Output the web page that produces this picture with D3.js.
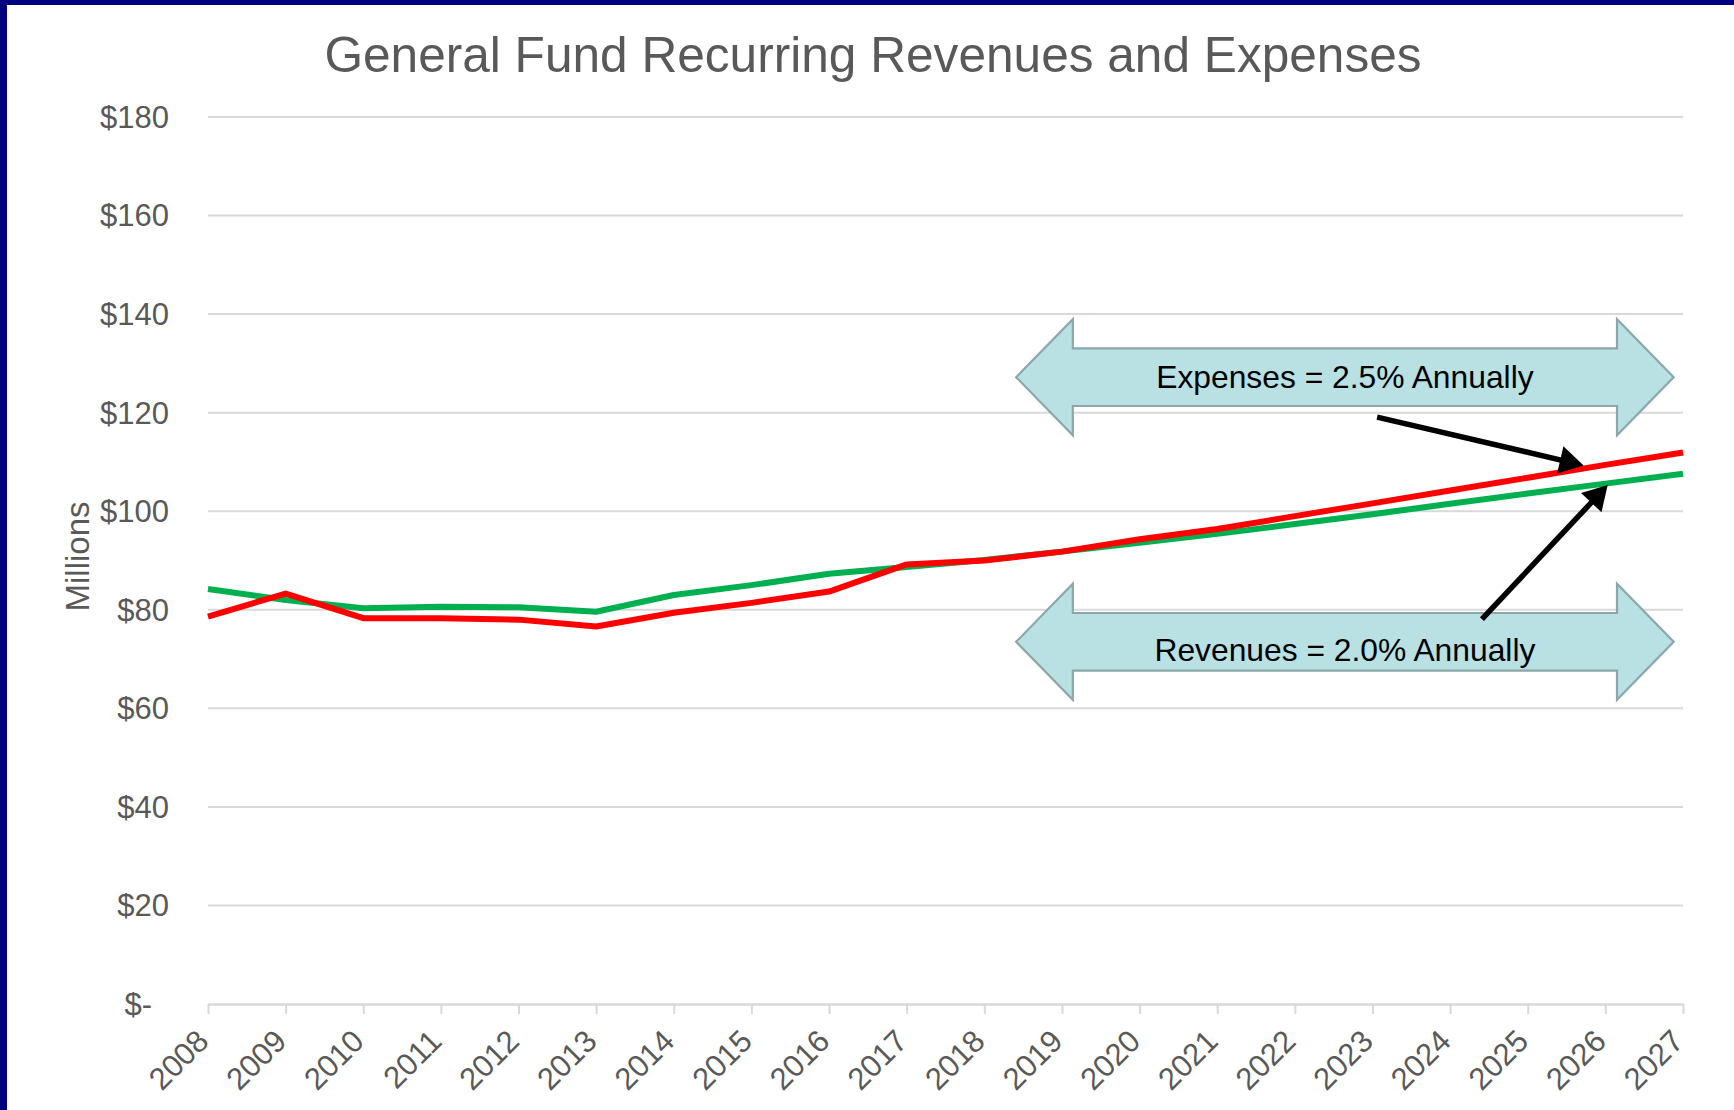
<!DOCTYPE html>
<html>
<head>
<meta charset="utf-8">
<script src="https://cdn.jsdelivr.net/npm/d3@7"></script>
<style>
html,body{margin:0;padding:0;background:#fff;}
svg{display:block;}
text{font-family:"Liberation Sans",Arial,Helvetica,sans-serif;}
</style>
</head>
<body>
<svg id="chart" width="1734" height="1110"></svg>
<script>
// ---- data ----
const years = [2008,2009,2010,2011,2012,2013,2014,2015,2016,2017,2018,2019,2020,2021,2022,2023,2024,2025,2026,2027];
const revenues = [84.2,82.0,80.3,80.6,80.5,79.6,83.0,85.0,87.3,88.7,90.1,91.8,93.6,95.4,97.4,99.4,101.5,103.6,105.6,107.6];
const expenses = [78.6,83.3,78.3,78.3,78.0,76.6,79.4,81.4,83.7,89.2,90.0,91.8,94.3,96.4,99.0,101.6,104.2,106.8,109.4,111.9];
const yTicks = [0,20,40,60,80,100,120,140,160,180];
const yTickLabels = ["$-","$20","$40","$60","$80","$100","$120","$140","$160","$180"];
const titleText = "General Fund Recurring Revenues and Expenses";
const yAxisTitle = "Millions";
// annotation block arrows (data space): tips, head bases, centre value
const bandLabels = ["Expenses = 2.5% Annually","Revenues = 2.0% Annually"];
const bandCenters = [127.2, 73.5];
const bandTextValues = [125.0, 69.6];
const bandX = [2018.41, 2019.14, 2026.15, 2026.88];
// pointer arrows (data space): [x1,y1,x2,y2]
const pointerExp = [2023.06, 119.1, 2025.72, 109.3];
const pointerRev = [2024.41, 78.1, 2026.03, 105.3];

// ---- layout ----
const svg = d3.select("#chart");
const W = 1734, H = 1110;
const x = d3.scaleLinear().domain([2008, 2027]).range([208, 1683]);
const y = d3.scaleLinear().domain([0, 180]).range([1004, 117]);

// border (navy, left & top)
svg.append("rect").attr("x",0).attr("y",0).attr("width",W).attr("height",H).attr("fill","#000080");
svg.append("rect").attr("x",7).attr("y",5).attr("width",W-7).attr("height",H-5).attr("fill","#ffffff");

// title
svg.append("text").attr("x", 873).attr("y", 72).attr("text-anchor","middle")
  .attr("font-size", 49.6).attr("fill","#595959").text(titleText);

// gridlines
svg.append("g").selectAll("line").data(yTicks.filter(d=>d>0)).join("line")
  .attr("x1", x(2008)).attr("x2", x(2027))
  .attr("y1", d=>y(d)).attr("y2", d=>y(d))
  .attr("stroke","#d9d9d9").attr("stroke-width",2);

// y axis labels
svg.append("g").selectAll("text").data(yTicks).join("text")
  .attr("x", (d,i)=> d===0 ? 152 : 169)
  .attr("y", d=>y(d))
  .attr("dy","0.35em")
  .attr("text-anchor","end")
  .attr("font-size",31).attr("fill","#595959")
  .text((d,i)=>yTickLabels[i]);

// y axis title
svg.append("text")
  .attr("transform",`translate(89,${(y(0)+y(180))/2-4}) rotate(-90)`)
  .attr("text-anchor","middle").attr("font-size",33).attr("fill","#595959")
  .text(yAxisTitle);

// x axis via d3.axisBottom
const xAxis = d3.axisBottom(x).tickValues(years).tickFormat(d3.format("d")).tickSizeInner(10).tickSizeOuter(0);
const gx = svg.append("g").attr("transform",`translate(0,${y(0)})`).call(xAxis);
gx.select(".domain").attr("stroke","#d9d9d9").attr("stroke-width",2.5);
gx.selectAll(".tick line").attr("stroke","#d9d9d9").attr("stroke-width",2);
gx.selectAll(".tick text")
  .attr("font-size",31).attr("fill","#595959")
  .attr("font-family",'"Liberation Sans",Arial,sans-serif')
  .attr("text-anchor","end")
  .attr("dy",null).attr("y",null)
  .attr("transform","translate(2,39) rotate(-45)");

// block arrows
const bandG = svg.append("g");
bandCenters.forEach((c,i)=>{
  const cy = y(c);
  const bodyH = 28.8, headH = 58;
  const [t1,b1,b2,t2] = bandX.map(x);
  const pts = [[t1,cy],[b1,cy-headH],[b1,cy-bodyH],[b2,cy-bodyH],[b2,cy-headH],[t2,cy],
               [b2,cy+headH],[b2,cy+bodyH],[b1,cy+bodyH],[b1,cy+headH]];
  bandG.append("polygon").attr("points", pts.map(p=>p.join(",")).join(" "))
    .attr("fill","#b9e0e3").attr("stroke","#8ba7aa").attr("stroke-width",2.2)
    .attr("stroke-linejoin","miter");
  bandG.append("text").attr("x",(t1+t2)/2).attr("y",y(bandTextValues[i]))
    .attr("text-anchor","middle").attr("font-size",31.8).attr("fill","#000")
    .text(bandLabels[i]);
});

// series lines
const line = d3.line().x((d,i)=>x(years[i])).y(d=>y(d));
svg.append("path").datum(revenues).attr("d",line)
  .attr("fill","none").attr("stroke","#00b050").attr("stroke-width",6).attr("stroke-linejoin","round");
svg.append("path").datum(expenses).attr("d",line)
  .attr("fill","none").attr("stroke","#ff0000").attr("stroke-width",6).attr("stroke-linejoin","round");

// pointer arrows
function pointer(p){
  const x1=x(p[0]), y1=y(p[1]), x2=x(p[2]), y2=y(p[3]);
  const ang = Math.atan2(y2-y1, x2-x1);
  const hl = 24, hw = 14;
  const bx = x2 - hl*Math.cos(ang), by = y2 - hl*Math.sin(ang);
  svg.append("line").attr("x1",x1).attr("y1",y1).attr("x2",bx+4*Math.cos(ang)).attr("y2",by+4*Math.sin(ang))
    .attr("stroke","#000").attr("stroke-width",5.5);
  const nx = -Math.sin(ang), ny = Math.cos(ang);
  svg.append("polygon").attr("points",
    [[x2,y2],[bx+nx*hw,by+ny*hw],[bx-nx*hw,by-ny*hw]].map(q=>q.join(",")).join(" "))
    .attr("fill","#000");
}
pointer(pointerExp);
pointer(pointerRev);
</script>
</body>
</html>
